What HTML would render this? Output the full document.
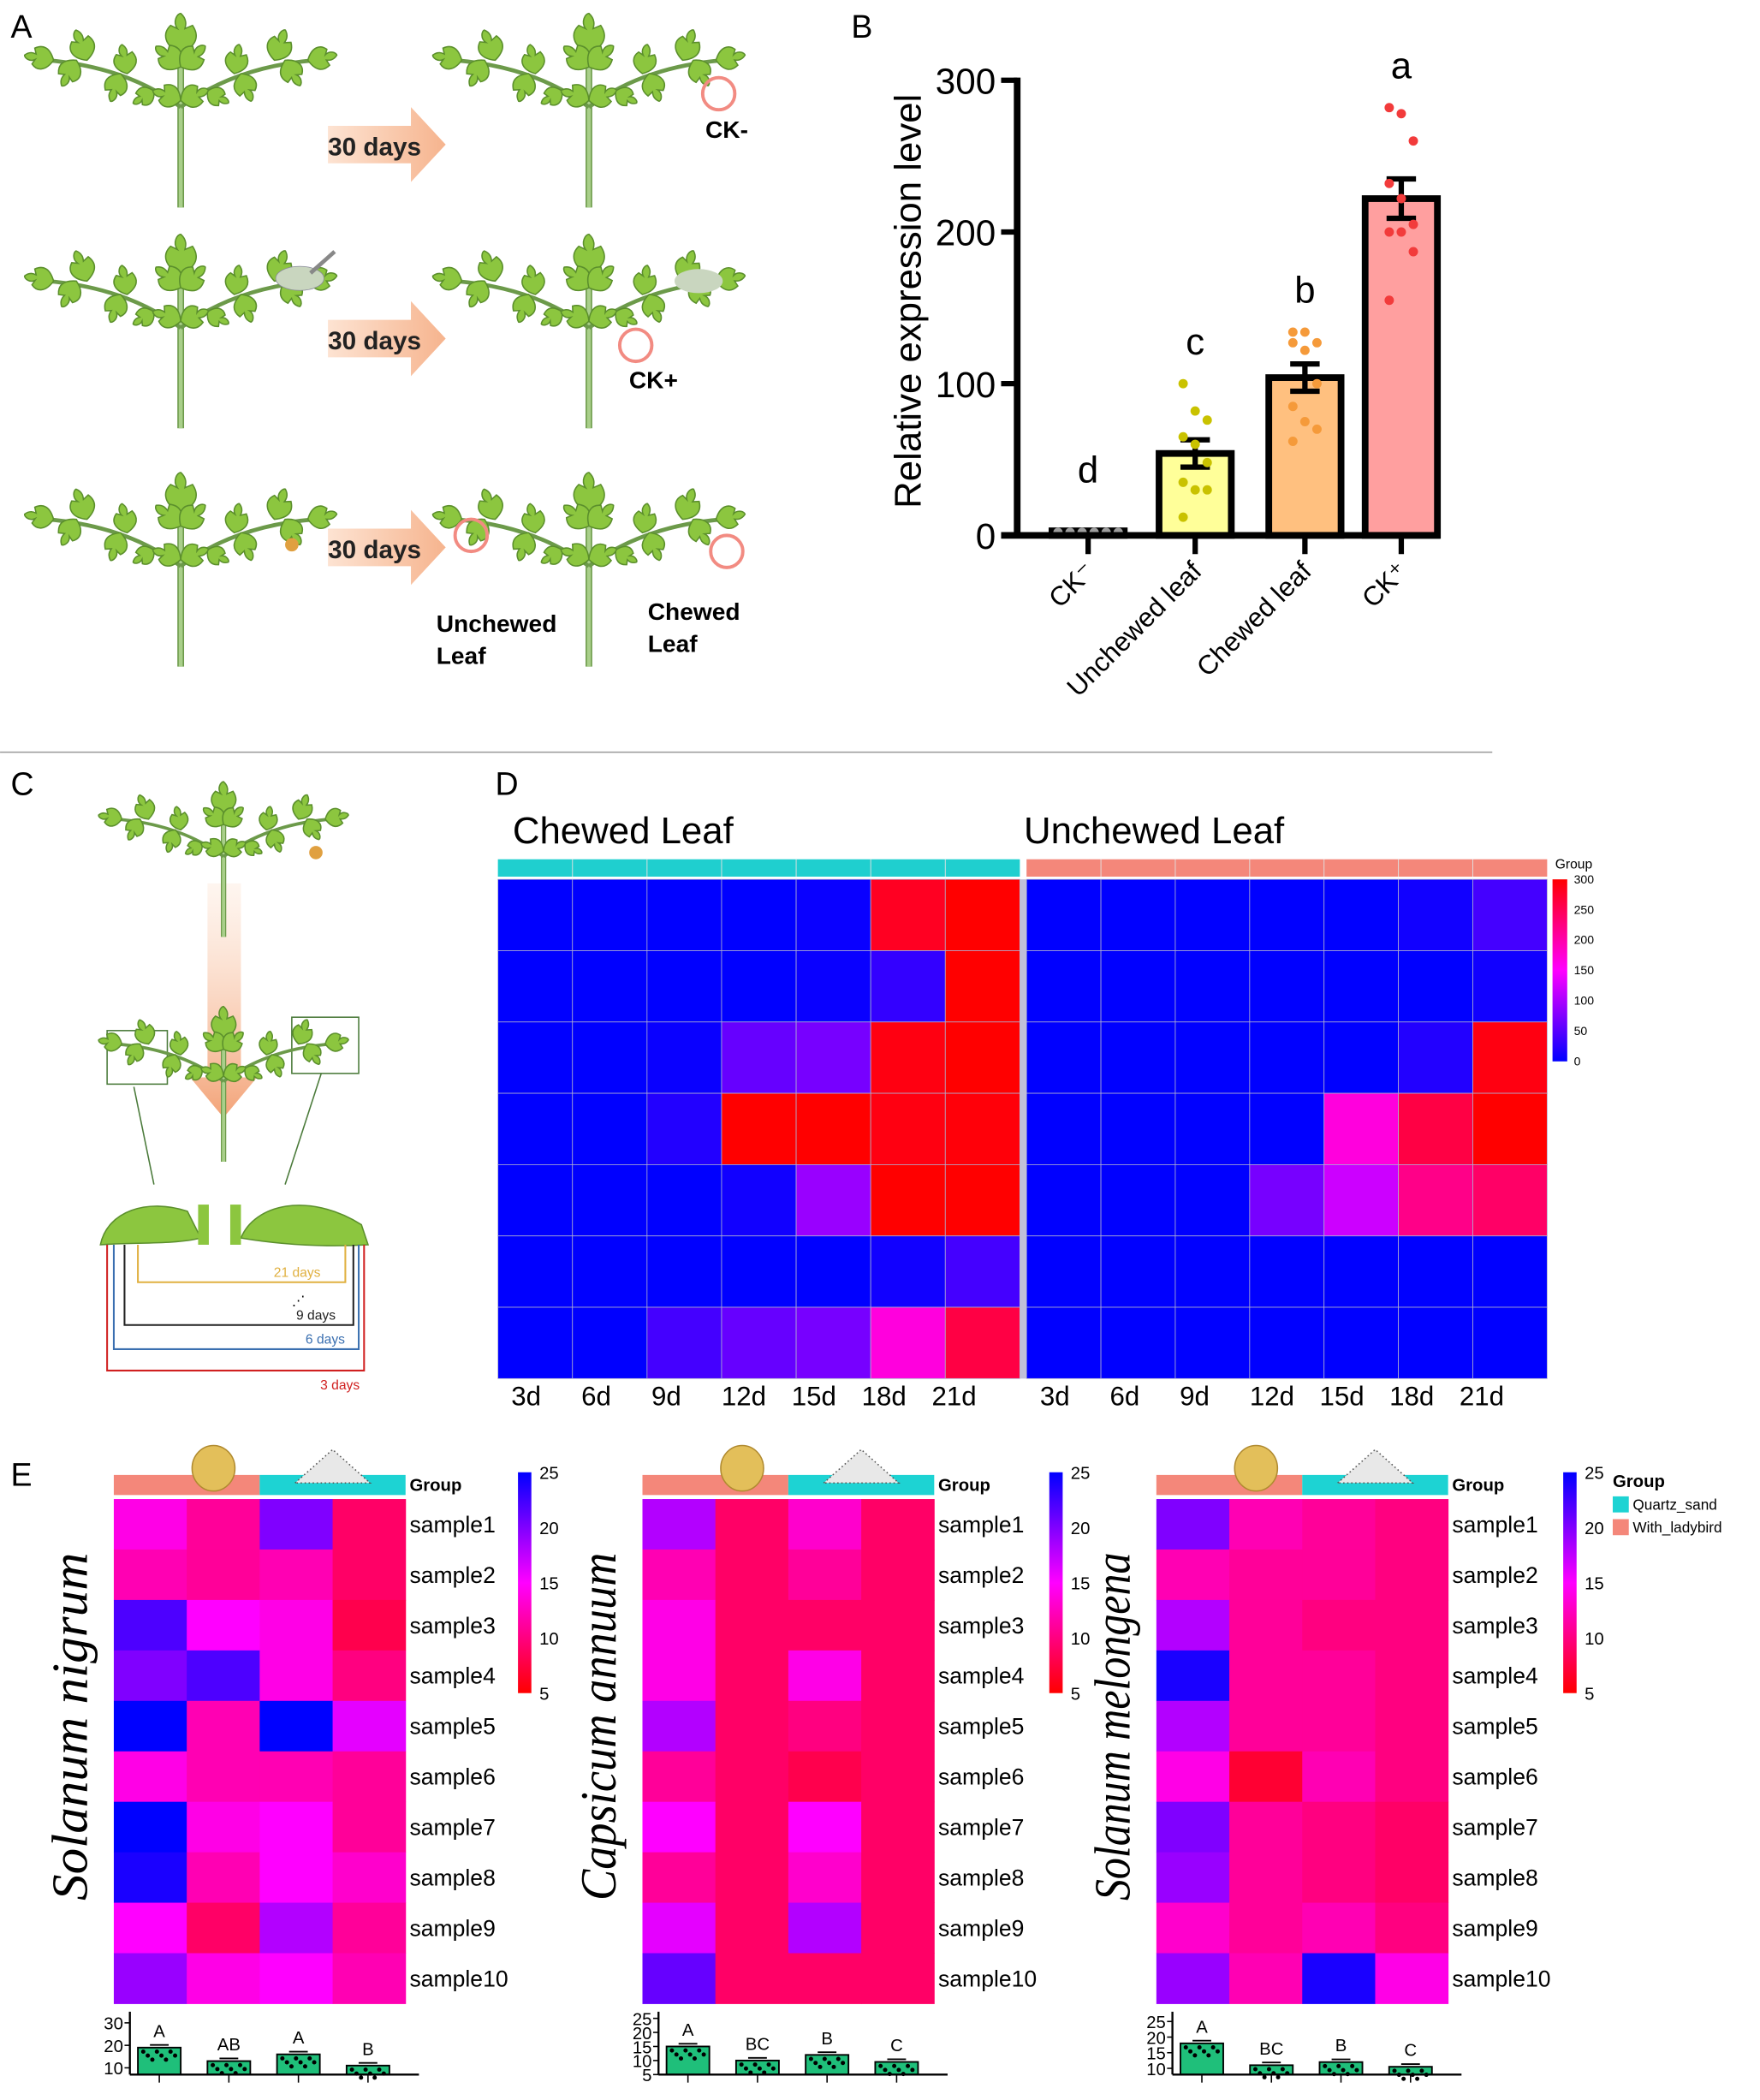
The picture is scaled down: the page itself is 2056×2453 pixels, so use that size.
<!DOCTYPE html>
<html><head><meta charset="utf-8"><style>
html,body{margin:0;padding:0;background:#fff}
svg{display:block;font-family:"Liberation Sans",Arial,sans-serif}
</style></head><body>
<svg id="fig" width="2056" height="2453" viewBox="0 0 1315 1569" xmlns="http://www.w3.org/2000/svg">
<defs>
<linearGradient id="arr" x1="0" x2="1"><stop offset="0" stop-color="#fde3d2"/><stop offset="1" stop-color="#f6b48e"/></linearGradient>
<linearGradient id="darr" x1="0" y1="0" x2="0" y2="1"><stop offset="0" stop-color="#fde7d8" stop-opacity="0.4"/><stop offset="1" stop-color="#f3a378"/></linearGradient>
<linearGradient id="cbD" x1="0" y1="1" x2="0" y2="0"><stop offset="0" stop-color="#0000ff"/><stop offset="0.5" stop-color="#ff00ff"/><stop offset="1" stop-color="#ff0000"/></linearGradient>
<linearGradient id="cbE" x1="0" y1="1" x2="0" y2="0"><stop offset="0" stop-color="#ff0000"/><stop offset="0.5" stop-color="#ff00ff"/><stop offset="1" stop-color="#0000ff"/></linearGradient>
</defs>
<g id="root"></g>
</svg>
<script>
// ---------- Panel B data ----------
const bCategories = ["CK⁻","Unchewed leaf","Chewed leaf","CK⁺"];
const bMeans = [3, 54, 104, 222];
const bErrors = [1, 9, 9, 13];
const bLetters = ["d","c","b","a"];
const bTicks = [0,100,200,300];
const bDots0 = [2,2,2,2,2,2];
const bDots1 = [100,82,76,65,60,48,35,30,30,12];
const bDots2 = [134,134,127,127,122,100,85,75,70,62];
const bDots3 = [282,278,260,232,222,205,200,200,187,155];
// ---------- Panel D data ----------
const dDays = ["3d","6d","9d","12d","15d","18d","21d"];
const dChewed = [
 [0,0,0,0,5,280,300],
 [0,0,0,0,5,30,300],
 [0,0,5,60,70,290,300],
 [0,0,20,300,300,290,295],
 [0,0,0,10,90,300,300],
 [0,0,0,0,0,10,40],
 [0,0,40,60,70,170,260]];
const dUnchewed = [
 [0,0,0,0,0,10,40],
 [0,0,0,0,0,0,10],
 [0,0,0,0,0,20,290],
 [0,0,0,0,170,260,300],
 [0,0,0,70,120,220,240],
 [0,0,0,0,0,0,0],
 [0,0,0,0,0,0,0]];
const dTicks = [0,50,100,150,200,250,300];
// ---------- Panel E data ----------
const eSamples = ["sample1","sample2","sample3","sample4","sample5","sample6","sample7","sample8","sample9","sample10"];
const eNigrum = [[14,11,20,9],[12,11,12,9],[22,15,14,8],[20,22,14,10],[25,12,25,16],[14,12,12,11],[25,14,15,11],[24,12,15,13],[15,9,18,11],[19,14,15,12]];
const eCapsicum = [[18,9,13,9],[12,9,11,9],[14,9,9,9],[14,9,14,9],[18,9,10,9],[11,9,8,9],[15,9,15,9],[11,9,13,9],[16,9,18,9],[21,9,9,9]];
const eMelongena = [[20,12,11,10],[12,11,11,10],[18,11,10,10],[24,11,11,10],[18,11,11,10],[14,7,12,10],[20,11,10,9],[19,11,10,9],[13,11,12,10],[19,12,24,14]];
const eTicks = [5,10,15,20,25];
const eBarNigrum = [19,13,16,11];
const eBarCapsicum = [15,10,12,9.5];
const eBarMelongena = [18,11,12,10.5];
const eLetNigrum = ["A","AB","A","B"];
const eLetCapsicum = ["A","BC","B","C"];
const eLetMelongena = ["A","BC","B","C"];
const eBarTicksN = [10,20,30];
const eBarTicksC = [5,10,15,20,25];
const eBarTicksM = [10,15,20,25];

const NS="http://www.w3.org/2000/svg";
const root=document.getElementById('root');
function el(tag,attrs,parent,text){const e=document.createElementNS(NS,tag);for(const k in attrs)e.setAttribute(k,attrs[k]);if(text!==undefined)e.textContent=text;(parent||root).appendChild(e);return e;}
function grp(name,parent){const g=el('g',{},parent);return g;}
function txt(parent,x,y,s,size,extra){const t=el('text',Object.assign({x:x,y:y,'font-size':size},extra||{}),parent,s);return t;}

// ---------- panel letters ----------
const letters=grp('panel-letters');
[["A",8,28],["B",636,28],["C",8,594],["D",370,594],["E",8,1110]].forEach(p=>{
 const t=txt(letters,p[1],p[2],p[0],24);
 
 
});

// ---------- plant drawing ----------
function leaf(g,x,y,ang,len){
 const w=len*0.42;
 const p=`M0,0 C${len*0.2},${-w} ${len*0.5},${-w*1.1} ${len*0.7},${-w*0.6} L${len*0.62},${-w*0.2} C${len*0.8},${-w*0.5} ${len},${-w*0.2} ${len},0 C${len*0.85},${w*0.4} ${len*0.7},${w*0.3} ${len*0.62},${w*0.25} L${len*0.7},${w*0.7} C${len*0.45},${w*1.1} ${len*0.2},${w} 0,0 Z`;
 el('path',{d:p,transform:`translate(${x},${y}) rotate(${ang})`,fill:'#8cc63f',stroke:'#5b8f2c','stroke-width':1},g);
}
function plant(name,cx,base,s){
 const g=grp(name);
 const top=base-140*s;
 el('path',{d:`M${cx},${base} L${cx},${top+20*s}`,stroke:'#6c9a4a','stroke-width':5*s,fill:'none'},g);
 el('path',{d:`M${cx},${base} L${cx},${top+20*s}`,stroke:'#a9cf8a','stroke-width':3*s,fill:'none'},g);
 const by=base-75*s;
 [[-1],[1]].forEach(([d])=>{
  el('path',{d:`M${cx},${by} Q${cx+d*40*s},${by-30*s} ${cx+d*100*s},${by-35*s}`,stroke:'#6c9a4a','stroke-width':3*s,fill:'none'},g);
  leaf(g,cx+d*95*s,by-35*s,d>0?-10:190,22*s);
  leaf(g,cx+d*78*s,by-35*s,d>0?60:120,22*s);
  leaf(g,cx+d*70*s,by-35*s,d>0?-70:-110,24*s);
  leaf(g,cx+d*45*s,by-25*s,d>0?70:110,22*s);
  leaf(g,cx+d*40*s,by-25*s,d>0?-80:-100,22*s);
  leaf(g,cx+d*20*s,by-12*s,d>0?30:150,18*s);
 });
 leaf(g,cx,top+25*s,-90,30*s);
 leaf(g,cx,top+35*s,-140,24*s);
 leaf(g,cx,top+35*s,-40,24*s);
 leaf(g,cx,top+60*s,-160,22*s);
 leaf(g,cx,top+60*s,-20,22*s);
 return g;
}
function arrow(name,x,cy,label){
 const g=grp(name);
 el('polygon',{points:`${x},${cy-14} ${x+62},${cy-14} ${x+62},${cy-28} ${x+88},${cy} ${x+62},${cy+28} ${x+62},${cy+14} ${x},${cy+14}`,fill:'url(#arr)'},g);
 txt(g,x,cy+8,label,19,{'font-weight':'bold',fill:'#222'});
}
function ring(x,y){const c=el('circle',{cx:x,cy:y,r:12,fill:'none',stroke:'#f28b82','stroke-width':2.5});}
plant('plant-row1-before',135,155,1);plant('plant-row1-after',440,155,1);
plant('plant-row2-before',135,320,1);plant('plant-row2-after',440,320,1);
plant('plant-row3-before',135,498,1);plant('plant-row3-after',440,498,1);
arrow('arrow-row1',245,108,'30 days');arrow('arrow-row2',245,253,'30 days');arrow('arrow-row3',245,409,'30 days');
el('ellipse',{cx:224,cy:208,rx:18,ry:9,fill:'#c9d6bf',stroke:'#889',"stroke-width":0.5});
el('line',{x1:232,y1:204,x2:250,y2:188,stroke:'#888','stroke-width':3});
el('ellipse',{cx:522,cy:210,rx:18,ry:9,fill:'#c9d6bf'});
el('circle',{cx:218,cy:407,r:5,fill:'#e0a040'});
ring(537,70);ring(475,258);ring(352,400);ring(543,412);
const alab=grp('panel-a-labels');
txt(alab,527,103,'CK-',18,{'font-weight':'bold'});
txt(alab,470,290,'CK+',18,{'font-weight':'bold'});
txt(alab,326,472,'Unchewed',18,{'font-weight':'bold'});txt(alab,326,496,'Leaf',18,{'font-weight':'bold'});
txt(alab,484,463,'Chewed',18,{'font-weight':'bold'});txt(alab,484,487,'Leaf',18,{'font-weight':'bold'});

// ---------- Panel B ----------
(function(){
 const g=grp('bar-chart-b');
 const y0=400, pxPer=340/300;
 const Y=v=>y0-v*pxPer;
 const xs=[813,893,975,1047];
 const fills=['#cccccc','#ffff99','#ffc07f','#ff9f9f'];
 const dotc=['#9e9e9e','#c9c200','#f59a3a','#f23b3b'];
 const dots=[bDots0,bDots1,bDots2,bDots3];
 bMeans.forEach((m,i)=>{
  const b=el('rect',{x:xs[i]-27,y:Y(m),width:54,height:m*pxPer,fill:fills[i],stroke:'#000','stroke-width':5},g);
  
  if(i>0){
   el('line',{x1:xs[i],y1:Y(m-bErrors[i]),x2:xs[i],y2:Y(m+bErrors[i]),stroke:'#000','stroke-width':4},g);
   el('line',{x1:xs[i]-11,y1:Y(m+bErrors[i]),x2:xs[i]+11,y2:Y(m+bErrors[i]),stroke:'#000','stroke-width':4},g);
   el('line',{x1:xs[i]-11,y1:Y(m-bErrors[i]),x2:xs[i]+11,y2:Y(m-bErrors[i]),stroke:'#000','stroke-width':4},g);
  }
  dots[i].forEach((v,j)=>{
   const off=i===0?(j-2.5)*9:((j%3)-1)*9;
   const d=el('circle',{cx:xs[i]+off,cy:Y(v),r:3.5,fill:dotc[i]},g);
   
  });
  txt(g,xs[i],Y(Math.max(m+bErrors[i],...dots[i]))-(i===0?35:22),bLetters[i],28,{'text-anchor':'middle'});
  el('line',{x1:xs[i],y1:y0,x2:xs[i],y2:y0+14,stroke:'#000','stroke-width':4},g);
  const t=txt(g,xs[i]+6,y0+28,bCategories[i],20,{'text-anchor':'end',transform:`rotate(-45 ${xs[i]+6} ${y0+28})`});
  
 });
 el('line',{x1:760,y1:58,x2:760,y2:y0+2,stroke:'#000','stroke-width':5},g);
 el('line',{x1:748,y1:y0,x2:1076,y2:y0,stroke:'#000','stroke-width':5},g);
 bTicks.forEach(t=>{
  el('line',{x1:748,y1:Y(t),x2:760,y2:Y(t),stroke:'#000','stroke-width':4},g);
  txt(g,744,Y(t)+10,String(t),27,{'text-anchor':'end'});
 });
 const yl=txt(g,688,225,'Relative expression level',28,{'text-anchor':'middle',transform:'rotate(-90 688 225)'});
 
})();
el('line',{x1:0,y1:562,x2:1115,y2:562,stroke:'#999','stroke-width':1});

// ---------- Panel C ----------
(function(){
 const g=grp('panel-c-diagram');
 el('polygon',{points:'155,660 180,660 180,805 192,805 167,835 142,805 155,805',fill:'url(#darr)'},g);
 plant('plant-c-top',167,700,0.8);
 plant('plant-c-bottom',167,868,0.8);
 el('circle',{cx:236,cy:637,r:5,fill:'#e0a040'},g);
 el('rect',{x:80,y:770,width:45,height:40,fill:'none',stroke:'#4a7a3a','stroke-width':1},g);
 el('rect',{x:218,y:760,width:50,height:42,fill:'none',stroke:'#4a7a3a','stroke-width':1},g);
 el('line',{x1:100,y1:812,x2:115,y2:885,stroke:'#4a7a3a'},g);
 el('line',{x1:240,y1:802,x2:213,y2:885,stroke:'#4a7a3a'},g);
 // cross-section leaves
 el('path',{d:'M75,930 C80,905 110,895 140,905 L150,925 C130,930 100,928 75,930Z',fill:'#8cc63f',stroke:'#5b8f2c'},g);
 el('path',{d:'M180,925 C190,900 230,890 270,915 L275,930 C240,932 210,930 180,925Z',fill:'#8cc63f',stroke:'#5b8f2c'},g);
 el('rect',{x:148,y:900,width:8,height:30,fill:'#8cc63f'},g);
 el('rect',{x:172,y:900,width:8,height:30,fill:'#8cc63f'},g);
 const br=[[103,258,'#e0b040',958,'21 days',222],[93,264,'#222',990,'9 days',236],[85,268,'#3a6fb0',1008,'6 days',243],[80,272,'#d02020',1024,'3 days',254]];
 br.forEach(b=>{
  el('polyline',{points:`${b[0]},930 ${b[0]},${b[3]} ${b[1]},${b[3]} ${b[1]},930`,fill:'none',stroke:b[2],'stroke-width':1.3},g);
  txt(g,b[5],b[3]+(b[4]==='3 days'?14:-4),b[4],10,{'text-anchor':'middle',fill:b[2]});
 });
 txt(g,218,975,'⋰',10,{});
})();

// ---------- Panel D heatmap ----------
function colD(v){const t=Math.max(0,Math.min(1,v/300));if(t<0.5){return `rgb(${Math.round(510*t)},0,255)`;}return `rgb(255,0,${Math.round(255-(t-0.5)*510)})`;}
(function(){
 const g=grp('heatmap-d');
 const top=657,rh=(1030-657)/7;
 const blocks=[[372,762,dChewed,'#1fcfcf'],[767,1156,dUnchewed,'#f4877a']];
 blocks.forEach((bk,bi)=>{
  const cw=(bk[1]-bk[0])/7;
  el('rect',{x:bk[0],y:642,width:bk[1]-bk[0],height:13,fill:bk[3]},g);
  for(let c=1;c<7;c++)el('line',{x1:bk[0]+c*cw,y1:642,x2:bk[0]+c*cw,y2:655,stroke:'#e0e0e0','stroke-width':0.6},g);
  bk[2].forEach((row,r)=>row.forEach((v,c)=>{
   const rc=el('rect',{x:bk[0]+c*cw,y:top+r*rh,width:cw,height:rh,fill:colD(v),stroke:'#b0b0d0','stroke-width':0.5},g);
   
  }));
  dDays.forEach((d,c)=>{txt(g,bk[0]+c*cw*0.94+10,1050,d,20,{});});
 });
 el('rect',{x:762,y:657,width:5,height:373,fill:'#c0c0d8'},g);
 txt(g,383,630,'Chewed  Leaf',28,{});
 txt(g,765,630,'Unchewed  Leaf',28,{});
 txt(g,1162,649,'Group',10,{});
 el('rect',{x:1160,y:657,width:11,height:136,fill:'url(#cbD)'},g);
 dTicks.forEach(t=>{const y=793-t/300*136;txt(g,1176,y+3,String(t),9,{});});
})();

// ---------- Panel E ----------
function colE(v){const t=Math.max(0,Math.min(1,(v-5)/20));if(t<0.5){return `rgb(255,0,${Math.round(510*t)})`;}return `rgb(${Math.round(255-(t-0.5)*510)},0,255)`;}
function panelE(name,x0,data,species,cbx,bars,lets,bticks,tmin,tmax){
 const g=grp(name);
 const w=218,cw=w/4,top=1120,rh=(1497-1120)/10;
 el('rect',{x:x0,y:1102,width:w/2,height:15,fill:'#f4877a'},g);
 el('rect',{x:x0+w/2,y:1102,width:w/2,height:15,fill:'#1dd3d3'},g);
 el('ellipse',{cx:x0+w/4+20,cy:1097,rx:16,ry:17,fill:'#e3bf5a',stroke:'#b08a30'},g);
 el('polygon',{points:`${x0+w*0.75-28},1108 ${x0+w*0.75},1083 ${x0+w*0.75+28},1108`,fill:'#e8e8e8',stroke:'#555','stroke-dasharray':'1 2'},g);
 txt(g,x0+w+3,1114,'Group',13,{'font-weight':'bold'});
 data.forEach((row,r)=>row.forEach((v,c)=>{
  const rc=el('rect',{x:x0+c*cw,y:top+r*rh,width:cw+0.3,height:rh+0.3,fill:colE(v)},g);
  
 }));
 eSamples.forEach((s,r)=>txt(g,x0+w+3,top+r*rh+rh/2+6,s,17,{}));
 const sl=txt(g,x0-20,1290,species,38,{'font-family':'"Liberation Serif",serif','font-style':'italic','text-anchor':'middle',transform:`rotate(-90 ${x0-20} 1290)`,textLength:260,lengthAdjust:'spacingAndGlyphs'});
 
 el('rect',{x:cbx,y:1100,width:10,height:165,fill:'url(#cbE)'},g);
 eTicks.forEach(t=>{const y=1265-(t-5)/20*165;txt(g,cbx+16,y+5,String(t),13,{});});
 // mini bar chart
 const ax=x0+12,base=1550,top2=1508;
 const Y=v=>base-(v-tmin)/(tmax-tmin)*(base-top2);
 bars.forEach((v,i)=>{
  const cx=x0+34+i*(w-20)/4*1.05;
  const b=el('rect',{x:cx-16,y:Y(v),width:32,height:base-Y(v),fill:'#1fbf7a',stroke:'#000','stroke-width':1.2},g);
  
  el('line',{x1:cx-7,y1:Y(v)-2,x2:cx+7,y2:Y(v)-2,stroke:'#000','stroke-width':1.2},g);
  for(let k=0;k<8;k++)el('circle',{cx:cx-12+k*3.4,cy:Y(v)+3+(k%3)*3,r:1.6,fill:'#000'},g);
  txt(g,cx,Y(v)-8,lets[i],13,{'text-anchor':'middle'});
  el('line',{x1:cx,y1:base,x2:cx,y2:base+6,stroke:'#000'},g);
 });
 el('line',{x1:ax,y1:top2-5,x2:ax,y2:base,stroke:'#000','stroke-width':1.5},g);
 el('line',{x1:ax,y1:base,x2:x0+w+10,y2:base,stroke:'#000','stroke-width':1.5},g);
 bticks.forEach(t=>{el('line',{x1:ax-4,y1:Y(t),x2:ax,y2:Y(t),stroke:'#000'},g);txt(g,ax-5,Y(t)+5,String(t),13,{'text-anchor':'end'});});
}
panelE('heatmap-e-nigrum',85,eNigrum,'Solanum nigrum',387,eBarNigrum,eLetNigrum,eBarTicksN,7,32);
panelE('heatmap-e-capsicum',480,eCapsicum,'Capsicum annuum',784,eBarCapsicum,eLetCapsicum,eBarTicksC,5,25);
panelE('heatmap-e-melongena',864,eMelongena,'Solanum melongena',1168,eBarMelongena,eLetMelongena,eBarTicksM,8,26);
(function(){
 const g=grp('legend-e');
 txt(g,1205,1111,'Group',13,{'font-weight':'bold'});
 el('rect',{x:1205,y:1118,width:12,height:12,fill:'#1dd3d3'},g);
 txt(g,1220,1128,'Quartz_sand',11,{});
 el('rect',{x:1205,y:1135,width:12,height:12,fill:'#f4877a'},g);
 txt(g,1220,1145,'With_ladybird',11,{});
})();
</script>
</body></html>
